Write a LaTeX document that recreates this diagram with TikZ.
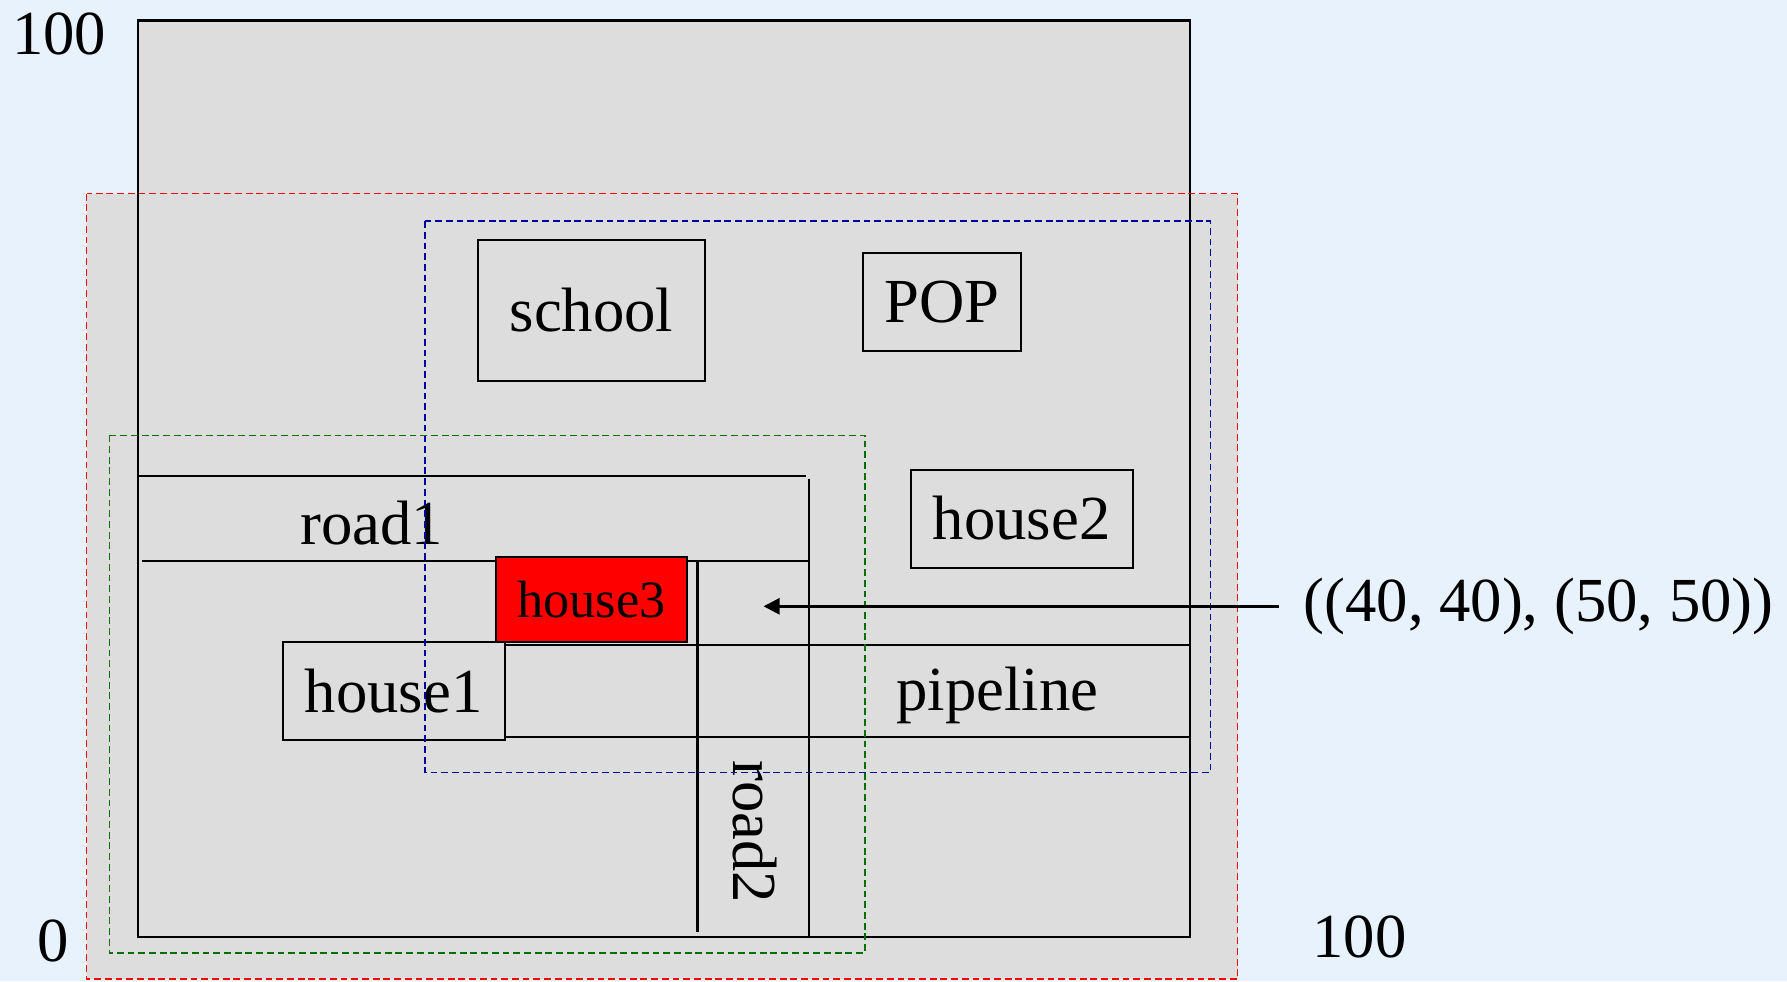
\documentclass[tikz,border=0pt]{standalone}
\usepackage{fontspec}
\setmainfont{Liberation Serif}
\usetikzlibrary{arrows.meta}
\definecolor{bgblue}{HTML}{E8F2FC}
\definecolor{plangray}{HTML}{DDDDDD}
\definecolor{dkgreen}{HTML}{007000}
\definecolor{dkblue}{HTML}{0000A0}
\definecolor{housered}{HTML}{FF0000}
\begin{document}
\begin{tikzpicture}[x=0.5pt,y=-0.5pt,
  plain/.style={draw=black, line width=0.9pt},
  dashbox/.style={line width=0.65pt, dash pattern=on 3pt off 1.7pt},
  bigtext/.style={font=\fontsize{27.5}{33}\selectfont, inner sep=0pt},
  lot/.style={plain, fill=plangray, font=\fontsize{27.5}{33}\selectfont, inner sep=0pt, anchor=center},
  arr/.style={line width=1.2pt, -{Triangle[length=7pt, width=7pt]}}]
\fill[bgblue] (0,0) rectangle (1568,861);
\useasboundingbox (0,0) rectangle (1568,861);
% zone fills
\fill[plangray] (76,170) rectangle (1086,859);
\draw[plain, fill=plangray] (121,18) rectangle (1044,822);
% roads and pipeline
\draw[plain] (121,418) -- (707,418);
\draw[plain] (125,492) -- (710,492);
\draw[plain] (710,420) -- (710,822);
\draw[plain] (612,492) -- (612,818);
\draw[plain] (443,566) -- (1044,566);
\draw[plain] (443,647) -- (1044,647);
% lots
\node[lot, minimum width=100pt, minimum height=61.5pt] (school) at (519,272.5) {school};
\node[lot, minimum width=69.5pt, minimum height=43pt] (pop) at (826.5,265) {POP};
\node[lot, minimum width=97.5pt, minimum height=43pt] (house2) at (896.5,455) {house2};
\node[lot, minimum width=97.5pt, minimum height=43pt] (house1) at (345.5,606) {house1};
\node[lot, fill=housered, font=\fontsize{23}{28}\selectfont, minimum width=84pt, minimum height=37pt] (house3) at (519,526) {house3};
% labels
\node[bigtext] (road1) at (326,459) {road1};
\node[bigtext, rotate=-90] (road2) at (662,730) {road2};
\node[bigtext] (pipeline) at (875,610) {pipeline};
\node[bigtext] (ytop) at (52,30) {100};
\node[bigtext] (orig) at (47,826) {0};
\node[bigtext] (xright) at (1193,822) {100};
% dashed extents
\draw[dashbox, red] (76,170) rectangle (1086,859);
\draw[dashbox, dkblue] (373,194) rectangle (1062,678);
\draw[dashbox, dkgreen] (96,382) rectangle (759,836);
% query label and arrow
\node[bigtext, inner xsep=10.5pt] (query) at (1350,532) {((40, 40), (50, 50))};
\coordinate (target) at (670,532);
\draw[arr] (query.west) -- (target);
\end{tikzpicture}
\end{document}
